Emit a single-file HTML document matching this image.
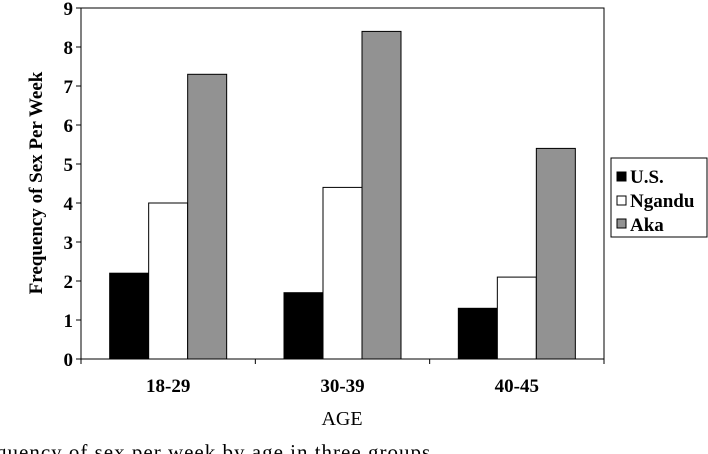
<!DOCTYPE html>
<html><head><meta charset="utf-8"><style>
body{margin:0;background:#fff;width:708px;height:454px;overflow:hidden;font-family:"Liberation Serif",serif}
svg{display:block}
</style></head><body>
<svg width="708" height="454">
<g id="chart"></g>
<g>
<rect x="611" y="158" width="96" height="79" fill="#fff" stroke="#000" stroke-width="1"/>
<rect x="617" y="172" width="9" height="9" fill="#000" stroke="#000"/>
<text x="630" y="183" font-size="19" font-weight="bold">U.S.</text>
<rect x="617" y="196" width="9" height="9" fill="#fff" stroke="#000"/>
<text x="630" y="207" font-size="19" font-weight="bold">Ngandu</text>
<rect x="617" y="219" width="9" height="9" fill="#929292" stroke="#000"/>
<text x="630" y="231" font-size="19" font-weight="bold">Aka</text>
</g>
<text transform="translate(42,183) rotate(-90)" text-anchor="middle" font-size="19" font-weight="bold">Frequency of Sex Per Week</text>
<text x="342" y="425" text-anchor="middle" font-size="20">AGE</text>
<text x="-4" y="459" font-size="21" letter-spacing="1">quency of sex per week by age in three groups</text>
</svg>
<script>
const categories=["18-29","30-39","40-45"];
const seriesNames=["U.S.","Ngandu","Aka"];
const usValues=[2.2,1.7,1.3];
const ngValues=[4.0,4.4,2.1];
const akaValues=[7.3,8.4,5.4];
const yTicks=[0,1,2,3,4,5,6,7,8,9];
(function(){
const ns="http://www.w3.org/2000/svg",g=document.getElementById("chart");
const L=81,R=604,T=8,B=359,yMax=9;
const y=v=>B-(B-T)*v/yMax;
const cw=(R-L)/categories.length,bw=39;
function mk(t,a){const e=document.createElementNS(ns,t);for(const k in a)e.setAttribute(k,a[k]);g.appendChild(e);return e;}
const frame=mk("rect",{x:L,y:T,width:R-L,height:B-T,fill:"#fff",stroke:"#000","stroke-width":1});


const series=[usValues,ngValues,akaValues],fills=["#000","#fff","#929292"],keys=["us","ngandu","aka"];
categories.forEach((c,i)=>{
 const x0=L+cw*i+cw/2-bw*1.5;
 series.forEach((s,j)=>{
  const r=mk("rect",{x:x0+j*bw,y:y(s[i]),width:bw,height:B-y(s[i]),fill:fills[j],stroke:"#000","stroke-width":1});
  
  
 });
 const t=mk("text",{x:L+cw*i+cw/2,y:392,"text-anchor":"middle","font-size":19,"font-weight":"bold"});
 t.textContent=c;
 
 
});
for(let i=0;i<=categories.length;i++){
 const tk=mk("line",{x1:L+cw*i,x2:L+cw*i,y1:B,y2:B+5,stroke:"#000"});
 
 
}
yTicks.forEach(v=>{
 const tk=mk("line",{x1:L-5,x2:L,y1:y(v),y2:y(v),stroke:"#000"});
 
 
 const t=mk("text",{x:L-8,y:y(v)+7,"text-anchor":"end","font-size":19,"font-weight":"bold"});
 t.textContent=v;
 
 
});
})();
</script>
</body></html>
